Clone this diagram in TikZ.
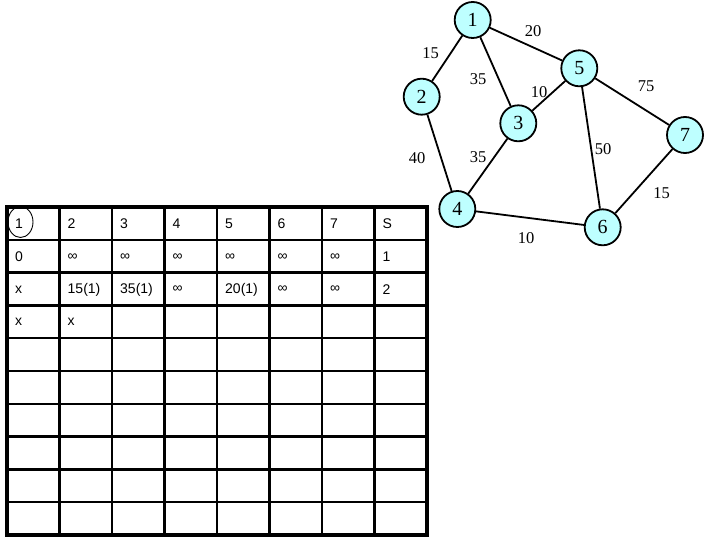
\documentclass[tikz,border=0pt]{standalone}
\usepackage{fontspec}
\setmainfont{Liberation Serif}
\newfontfamily\tabfont{Liberation Sans}
\usepackage{xcolor}
\usepackage{tikz}
\usetikzlibrary{positioning}

\definecolor{vcyan}{RGB}{190,255,255}

\begin{document}
\begin{tikzpicture}[
  x=1pt, y=-1pt,
  vertex/.style={
    circle, draw=black, line width=1.8pt, fill=vcyan,
    minimum size=36pt, inner sep=0pt,
    font=\fontsize{20}{22}\selectfont
  },
  wt/.style={font=\fontsize{16.5}{18}\selectfont, inner sep=1pt},
  edge/.style={line width=1.8pt},
  cell/.style={anchor=west, inner sep=0pt, font=\tabfont\fontsize{14}{16}\selectfont},
  grid/.style={line width=2.4pt},
  frame/.style={line width=4pt}
]
  \useasboundingbox (0,0) rectangle (720,540);

  % Graph vertices
  \node[vertex] (v1) at (472.7,20) {1};
  \node[vertex] (v2) at (421.7,96.7) {2};
  \node[vertex] (v3) at (518.3,123.3) {3};
  \node[vertex] (v5) at (579.3,68.3) {5};
  \node[vertex] (v7) at (685,135) {7};
  \node[vertex] (v4) at (457.3,209) {4};
  \node[vertex] (v6) at (602.7,227.3) {6};

  % Edges
  \draw[edge] (v1) -- (v2);
  \draw[edge] (v1) -- (v3);
  \draw[edge] (v1) -- (v5);
  \draw[edge] (v2) -- (v4);
  \draw[edge] (v3) -- (v4);
  \draw[edge] (v3) -- (v5);
  \draw[edge] (v5) -- (v6);
  \draw[edge] (v5) -- (v7);
  \draw[edge] (v4) -- (v6);
  \draw[edge] (v7) -- (v6);

  % Weights
  \node[wt] (w15) at (533,31) {20};
  \node[wt] (w12) at (430.7,53) {15};
  \node[wt] (w13) at (478,79) {35};
  \node[wt] (w35) at (539,92) {10};
  \node[wt] (w57) at (646,86) {75};
  \node[wt] (w24) at (417,158) {40};
  \node[wt] (w34) at (478,157) {35};
  \node[wt] (w56) at (603,149) {50};
  \node[wt] (w76) at (661.7,193) {15};
  \node[wt] (w46) at (526,238) {10};

  % Table grid
  \foreach \i in {1,...,7}
    \draw[grid] ({7+\i*52.5},207) -- ({7+\i*52.5},535);
  \foreach \j in {1,...,9}
    \draw[grid] (7,{207+\j*32.8}) -- (427,{207+\j*32.8});
  \draw[frame] (7,207) rectangle (427,535);

  % Table entries
  \foreach \txt [count=\c] in {1,2,3,4,5,6,7,S}
    \node[cell] (a\c) at ({7+(\c-1)*52.5+8},224) {\txt};
  \foreach \txt [count=\c] in {0,∞,∞,∞,∞,∞,∞,1}
    \node[cell] (b\c) at ({7+(\c-1)*52.5+8},257) {\txt};
  \foreach \txt [count=\c] in {x,15(1),35(1),∞,20(1),∞,∞,2}
    \node[cell] (d\c) at ({7+(\c-1)*52.5+8},289.5) {\txt};
  \foreach \txt [count=\c] in {x,x}
    \node[cell] (e\c) at ({7+(\c-1)*52.5+8},322) {\txt};

  % Mark on the first head cell
  \draw[line width=0.9pt] (20.5,222) ellipse (12.5 and 15.5);
\end{tikzpicture}
\end{document}
